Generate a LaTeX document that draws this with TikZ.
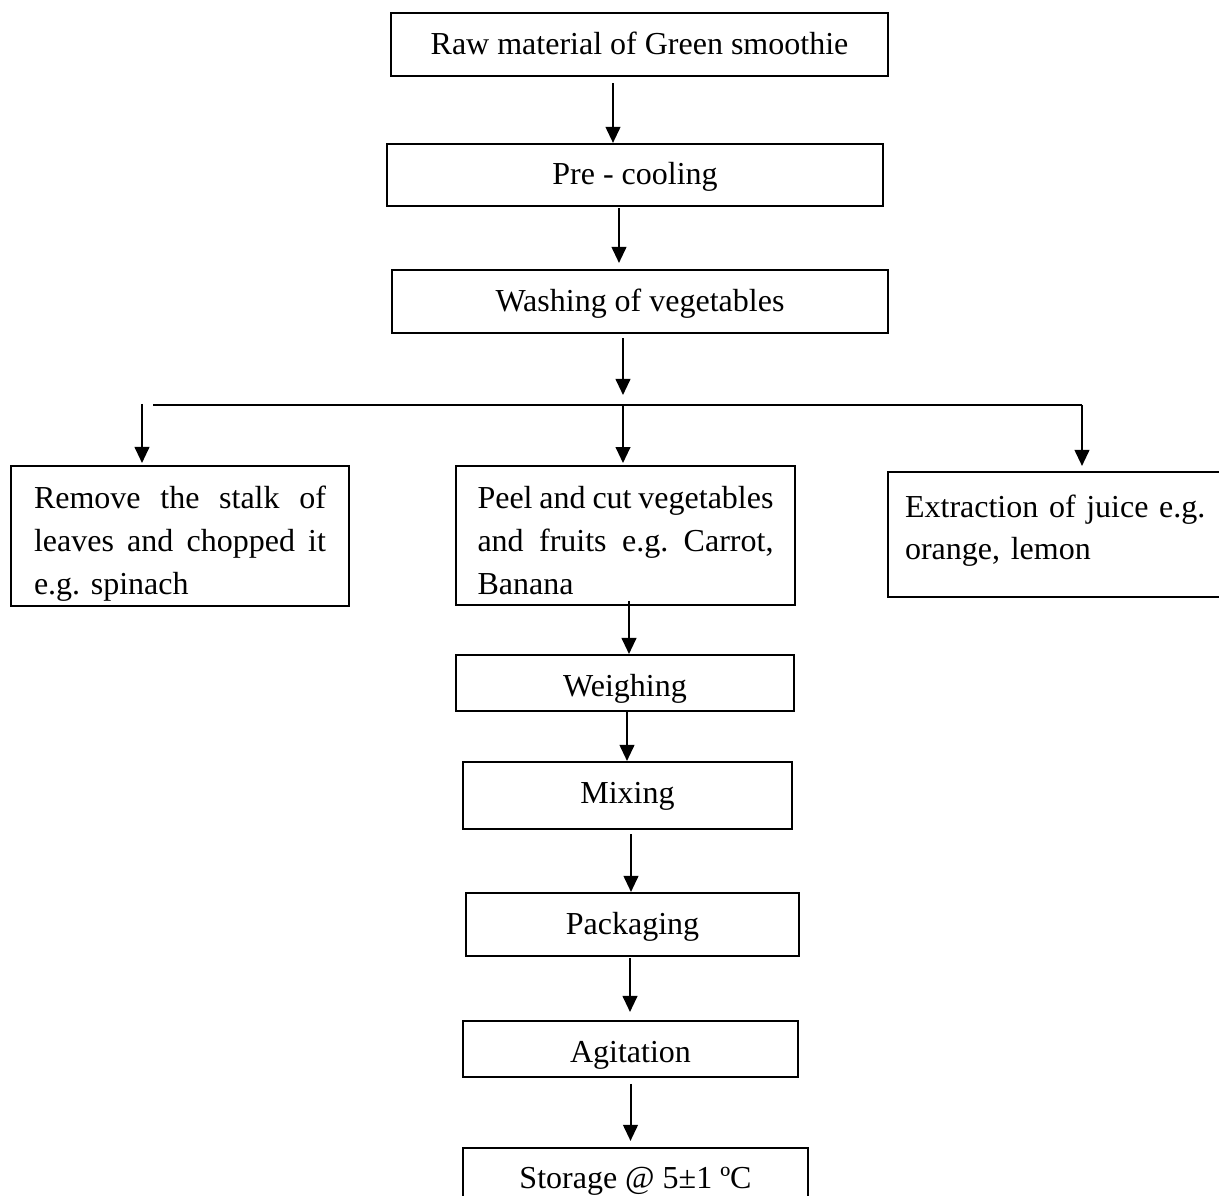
\documentclass[tikz,border=0pt]{standalone}
\usepackage{fontspec}
\setmainfont{Liberation Serif}
\usepackage{tikz}
\usetikzlibrary{arrows.meta}
\usetikzlibrary{calc}

\newcommand{\jline}[2]{\leavevmode\hbox to #1{#2}}

\tikzset{
  stepbox/.style={draw, line width=0.75pt, inner sep=0pt, text height=15.4pt,
    font=\fontsize{12}{16.1}\selectfont\frenchspacing},
  listbox/.style={stepbox, align=left, text height=16.1pt},
  flow/.style={line width=0.75pt, -{Triangle[width=5.5pt,length=6pt]}},
}

\begin{document}
\begin{tikzpicture}[x=0.375pt, y=-0.375pt]

      \useasboundingbox (0,0) rectangle (1219,1196);
      %%
      \node[stepbox, minimum width=186.4pt, text depth=8.25pt] (raw) at (639.5,44.5) {Raw material of Green smoothie};
      \node[stepbox, minimum width=186pt, text depth=7.9pt] (precool) at (635,175) {Pre - cooling};
      \node[stepbox, minimum width=186pt, text depth=8.25pt] (wash) at (640,301.5) {Washing of vegetables};
      %%
      \coordinate (busL) at (153,405);
      \coordinate (busR) at (1082,405);
      \node[listbox, text width=109.5pt, inner xsep=8.6pt, text depth=36.4pt] (leaves) at (180,536)
        {\jline{109.5pt}{Remove\hfill the\hfill stalk\hfill of}\\ \jline{109.5pt}{leaves\hfill and\hfill chopped\hfill it}\\ e.g. spinach};
      \node[listbox, text width=111pt, inner xsep=8.05pt, text depth=36pt] (peel) at (625.5,535.5)
        {\jline{111pt}{Peel\hfill and\hfill cut\hfill vegetables}\\ \jline{111pt}{and\hfill fruits\hfill e.g.\hfill Carrot,}\\ Banana};
      \node[listbox, text width=122.2pt, inner xsep=6.4pt, text height=16.9pt, text depth=30pt] (juice) at (1068,534.5)
        {Extraction of juice e.g.\\ orange, lemon};
      %%
      \node[stepbox, minimum width=126.75pt, text depth=5.6pt] (weigh) at (625,683) {Weighing};
      \node[stepbox, minimum width=123.4pt, text depth=9.75pt] (mix) at (627.5,795.5) {Mixing};
      \node[stepbox, minimum width=124.9pt, text depth=8.25pt] (pack) at (632.5,924.5) {Packaging};
      \node[stepbox, minimum width=125.6pt, text depth=5.6pt] (agit) at (630.5,1049) {Agitation};
      \node[stepbox, minimum width=129.4pt, text depth=7.9pt] (store) at (635.5,1179) {Storage @ 5±1 ºC};
      %%
      \draw[flow] ($(raw.south)+(-26.5,6)$) -- ($(raw.south |- precool.north)+(-26.5,0)$);
      \draw[flow] ($(precool.south)+(-16,1)$) -- ($(precool.south |- wash.north)+(-16,-6)$);
      \draw[flow] ($(wash.south)+(-17,4)$) -- ($(wash.south |- busL)+(-17,-10)$);
      \draw[line width=0.75pt] (busL) -- (busR);
      \draw[flow] ($(leaves.north |- busL)+(-38,-1)$) -- ($(leaves.north)+(-38,-2)$);
      \draw[flow] ($(peel.north |- busL)+(-2.5,0)$) -- ($(peel.north)+(-2.5,-2)$);
      \draw[flow] (busR) -- ($(busR |- juice.north)+(0,-5)$);
      %%
      \draw[flow] ($(peel.south)+(3.5,-5)$) -- ($(peel.south |- weigh.north)+(3.5,0)$);
      \draw[flow] ($(weigh.south)+(2,0)$) -- ($(weigh.south |- mix.north)+(2,0)$);
      \draw[flow] ($(mix.south)+(3.5,4)$) -- ($(mix.south |- pack.north)+(3.5,0)$);
      \draw[flow] ($(pack.south)+(-2.5,1)$) -- ($(pack.south |- agit.north)+(-2.5,-8)$);
      \draw[flow] ($(agit.south)+(0,6)$) -- ($(agit.south |- store.north)+(0,-6)$);

\end{tikzpicture}
\end{document}
